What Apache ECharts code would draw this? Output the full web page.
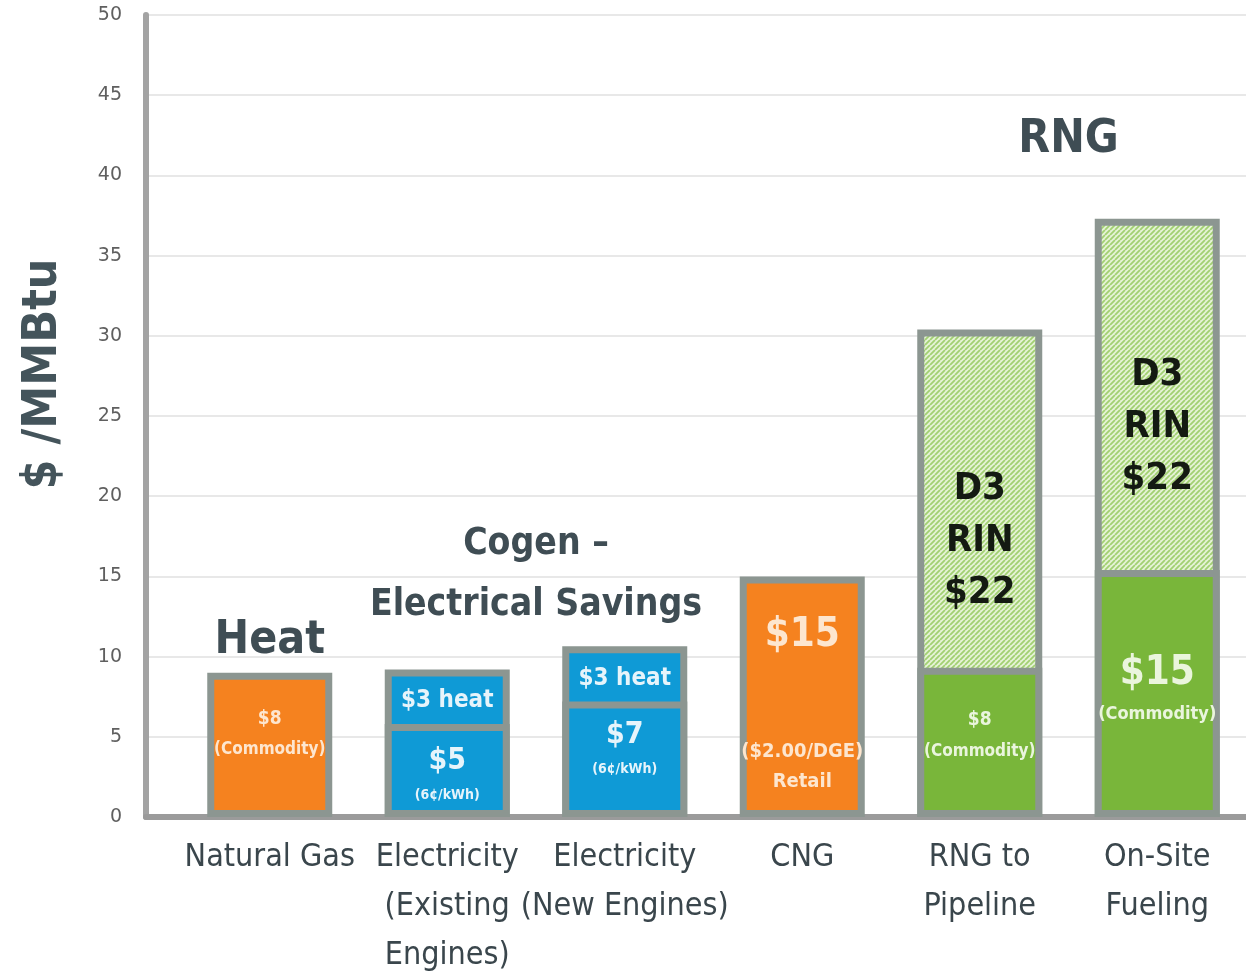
<!DOCTYPE html>
<html><head><meta charset="utf-8">
<script src="https://cdn.jsdelivr.net/npm/echarts@6/dist/echarts.min.js"></script>
<style>html,body{margin:0;padding:0;background:#fff}#c{width:1246px;height:976px}</style>
</head><body><div id="c"></div>
<script>
// ---- data ----
const categories = ['Natural Gas', 'Electricity\n(Existing\nEngines)', 'Electricity\n(New Engines)', 'CNG', 'RNG to\nPipeline', 'On-Site\nFueling'];
const baseValues = [9.0, 5.8, 7.2, 15.0, 9.3, 15.4];
const topValues = [null, 3.4, 3.45, null, 21.1, 21.9];
const baseKinds = ['fuel', 'power', 'power', 'fuel', 'rng', 'rng'];
const topKinds = [null, 'power', 'power', null, 'rin', 'rin'];
const baseLabels = [
  ['$8', '(Commodity)'],
  ['$5', '(6¢/kWh)'],
  ['$7', '(6¢/kWh)'],
  ['$15', '($2.00/DGE)', 'Retail'],
  ['$8', '(Commodity)'],
  ['$15', '(Commodity)']
];
const topLabels = [null, ['$3 heat'], ['$3 heat'], null, ['D3', 'RIN', '$22'], ['D3', 'RIN', '$22']];
const yTicks = [0, 5, 10, 15, 20, 25, 30, 35, 40, 45, 50];
const yAxisName = '$ /MMBtu';
const notes = [
  {text: 'Heat', cat: [0, 0], value: 11.0, size: 46},
  {text: 'Cogen –', cat: [1, 2], value: 17.0, size: 37},
  {text: 'Electrical Savings', cat: [1, 2], value: 13.2, size: 37},
  {text: 'RNG', cat: [4, 5], value: 42.2, size: 46}
];

// ---- styles ----
const NARROW = "'Liberation Sans Narrow', 'DejaVu Sans Condensed', 'Roboto', sans-serif";
const BORDER = '#8c9691';
const BW = 7;
function hatch() {
  const c = document.createElement('canvas');
  c.width = 5; c.height = 5;
  const g = c.getContext('2d');
  g.fillStyle = '#e6f3d6'; g.fillRect(0, 0, 5, 5);
  g.strokeStyle = '#a2d072'; g.lineWidth = 1.8;
  g.beginPath();
  for (const k of [-5, 0, 5]) { g.moveTo(k, 5); g.lineTo(k + 5, 0); }
  g.stroke();
  return c;
}
const kindStyle = {
  fuel: {color: '#f5821f', text: '#fde6cf'},
  power: {color: '#0f9ad6', text: '#e6f4fb'},
  rng: {color: '#79b63a', text: '#eaf5dd'},
  rin: {color: {image: hatch(), repeat: 'repeat'}, text: '#141a12'}
};
// label layout per category (style only)
const baseRich = [
  {sizes: [19, 17], lh: [32, 30], off: -11},
  {sizes: [30, 14], lh: [40, 28], off: 5},
  {sizes: [30, 14], lh: [40, 28], off: -10},
  {sizes: [40, 20, 20], lh: [50, 30, 30], off: 7, gap: 76},
  {sizes: [19, 17], lh: [32, 30], off: -7},
  {sizes: [40, 18], lh: [48, 34], off: -3}
];
const topRich = [null, {sizes: [24], lh: [30], dist: 16}, {sizes: [24], lh: [30], dist: 18}, null,
  {sizes: [38, 38, 38], lh: [52, 52, 52], dist: 134}, {sizes: [38, 38, 38], lh: [52, 52, 52], dist: 130}];

function makeLabel(lines, rs, color, pos) {
  if (!lines) return {show: false};
  const rich = {};
  const parts = [];
  lines.forEach((t, i) => {
    rich['l' + i] = {fontSize: rs.sizes[i], lineHeight: rs.lh[i], color: color, fontFamily: NARROW, fontWeight: 'bold', align: 'center'};
    parts.push('{l' + i + '|' + t + '}');
    if (i === 0 && rs.gap) { rich.gap = {lineHeight: rs.gap, fontSize: 10}; parts.push('{gap| }'); }
  });
  const lab = {show: true, formatter: parts.join('\n'), rich: rich};
  if (pos === 'top') { lab.position = 'insideTop'; lab.distance = rs.dist; }
  else { lab.position = 'inside'; lab.offset = [0, rs.off]; }
  return lab;
}

// full-height bars (base + upper part) drawn behind, base bars drawn in front
const totalData = topValues.map((v, i) => v == null ? '-' : ({
  value: baseValues[i] + v,
  itemStyle: {color: kindStyle[topKinds[i]].color},
  label: makeLabel(topLabels[i], topRich[i], kindStyle[topKinds[i]].text, 'top')
}));
const baseData = baseValues.map((v, i) => ({
  value: v,
  itemStyle: {color: kindStyle[baseKinds[i]].color},
  label: makeLabel(baseLabels[i], baseRich[i], kindStyle[baseKinds[i]].text, 'in')
}));

const chart = echarts.init(document.getElementById('c'));
const TOP = 15, BOTTOM = 159;
chart.setOption({
  backgroundColor: '#ffffff',
  animation: false,
  grid: [
    {left: 146, right: 0, top: TOP, bottom: BOTTOM, outerBoundsMode: 'none'},
    {left: 181, right: 0, top: TOP, bottom: BOTTOM, outerBoundsMode: 'none'}
  ],
  xAxis: [
    {gridIndex: 0, type: 'category', data: [''], axisTick: {show: false}, axisLabel: {show: false},
      axisLine: {show: true, lineStyle: {color: '#9b9b9b', width: 6}}},
    {gridIndex: 1, type: 'category', data: categories, axisTick: {show: false}, axisLine: {show: false},
      axisLabel: {interval: 0, margin: 16, fontFamily: NARROW, fontSize: 32, lineHeight: 49, color: '#3a464c', align: 'center'}}
  ],
  yAxis: [
    {gridIndex: 0, type: 'value', min: yTicks[0], max: yTicks[yTicks.length - 1], interval: yTicks[1] - yTicks[0],
      name: yAxisName, nameLocation: 'middle', nameGap: 78, nameRotate: 90,
      nameTextStyle: {fontFamily: NARROW, fontSize: 48, fontWeight: 'bold', color: '#44545b', padding: [0, 0, 0, 84]},
      axisLine: {show: true, lineStyle: {color: '#a3a3a3', width: 6}}, axisTick: {show: false},
      axisLabel: {margin: 24, fontFamily: "'DejaVu Sans', sans-serif", fontSize: 19, color: '#5f5f5f', padding: [6, 0, 0, 0]},
      splitLine: {show: true, lineStyle: {color: '#e8e8e8', width: 2}}},
    {gridIndex: 1, type: 'value', min: yTicks[0], max: yTicks[yTicks.length - 1], interval: yTicks[1] - yTicks[0],
      show: false, splitLine: {show: false}}
  ],
  series: [
    {type: 'bar', name: 'upper', xAxisIndex: 1, yAxisIndex: 1, barWidth: 125, barGap: '-100%', data: totalData,
      itemStyle: {borderColor: BORDER, borderWidth: BW}},
    {type: 'bar', name: 'base', xAxisIndex: 1, yAxisIndex: 1, barWidth: 125, barGap: '-100%', data: baseData,
      itemStyle: {borderColor: BORDER, borderWidth: BW}}
  ]
});

function placeNotes() {
  const els = notes.map(n => {
    const p0 = chart.convertToPixel({xAxisIndex: 1, yAxisIndex: 1}, [n.cat[0], n.value]);
    const p1 = chart.convertToPixel({xAxisIndex: 1, yAxisIndex: 1}, [n.cat[1], n.value]);
    return {type: 'text', x: (p0[0] + p1[0]) / 2, y: p0[1], z: 10,
      style: {text: n.text, font: 'bold ' + n.size + 'px ' + NARROW, fill: '#3f4d54', align: 'center', verticalAlign: 'middle'}};
  });
  chart.setOption({graphic: els});
}
placeNotes();
</script>
</body></html>
